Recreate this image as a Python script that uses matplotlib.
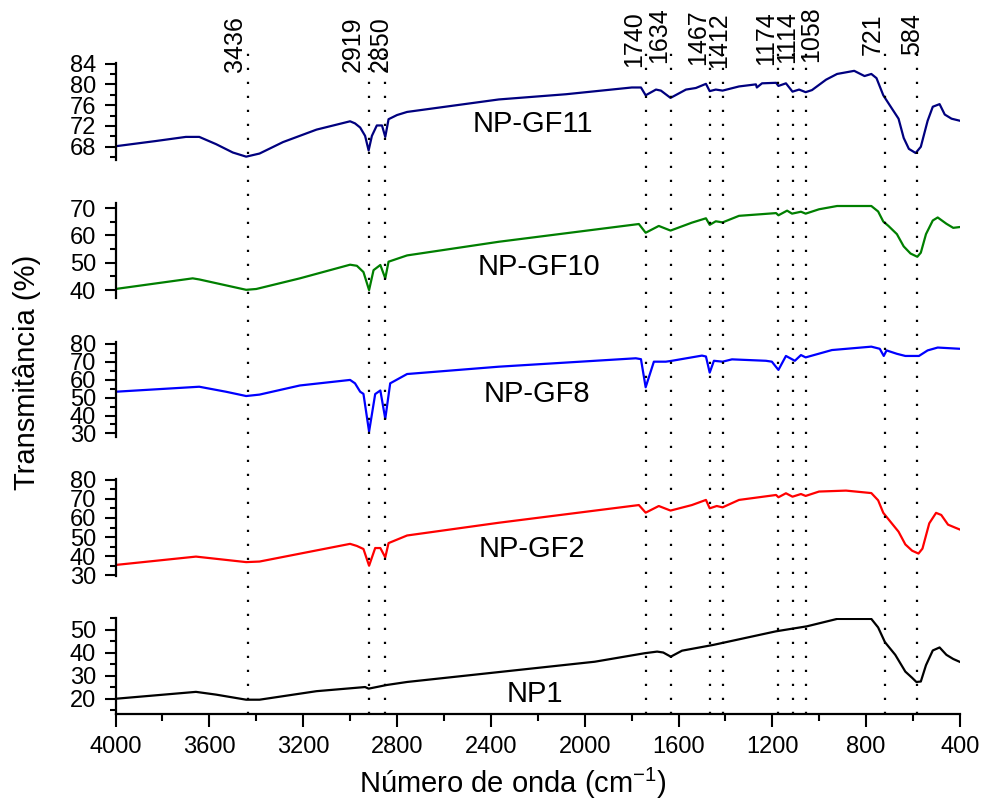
import matplotlib
matplotlib.use('Agg')
import matplotlib.pyplot as plt
from matplotlib.ticker import MultipleLocator

plt.rcParams['font.family'] = ['Liberation Sans', 'DejaVu Sans']
plt.rcParams['mathtext.fontset'] = 'custom'
plt.rcParams['mathtext.rm'] = 'Liberation Sans'
plt.rcParams['mathtext.default'] = 'regular'

# ---------------- data ----------------
peaks = [3436, 2919, 2850, 1740, 1634, 1467, 1412, 1174, 1114, 1058, 721, 584]

wn_gf11 = [4000, 3829, 3700, 3643, 3571, 3500, 3443, 3386, 3286, 3143,
           3000, 2979, 2957, 2936, 2921, 2907, 2886, 2864, 2850, 2836,
           2800, 2757, 2366, 2080, 1799, 1760, 1740, 1696, 1675, 1634,
           1568, 1526, 1483, 1467, 1441, 1412, 1342, 1270, 1266, 1244,
           1184, 1174, 1142, 1114, 1086, 1058, 1031, 971, 924, 851,
           807, 778, 756, 727, 691, 662, 640, 618, 589, 567,
           538, 516, 487, 465, 436, 400]
t_gf11 = [68.1, 69.1, 69.9, 69.9, 68.5, 66.9, 66.1, 66.7, 68.9, 71.3,
          72.9, 72.5, 71.7, 70.1, 67.3, 70.1, 72.1, 72.1, 69.9, 73.3,
          74.1, 74.7, 77.1, 78.1, 79.4, 79.4, 77.9, 79.0, 78.8, 77.4,
          79.0, 79.3, 80.1, 78.7, 79.0, 78.8, 79.6, 80.0, 79.4, 80.2,
          80.3, 79.7, 80.2, 78.6, 79.0, 78.5, 78.9, 80.9, 82.0, 82.6,
          81.6, 82.0, 81.2, 77.9, 75.4, 73.4, 69.7, 67.6, 66.8, 68.0,
          73.0, 75.7, 76.2, 74.2, 73.4, 73.0]

wn_gf10 = [4000, 3671, 3643, 3443, 3400, 3214, 3000, 2971, 2943, 2919,
           2900, 2871, 2850, 2836, 2757, 2366, 1769, 1740, 1684, 1634,
           1543, 1483, 1467, 1441, 1412, 1342, 1184, 1174, 1137, 1116,
           1078, 1058, 1001, 924, 778, 749, 727, 705, 669, 640,
           611, 582, 567, 545, 516, 495, 458, 429, 400]
t_gf10 = [40.4, 44.3, 43.9, 40.1, 40.4, 44.3, 49.3, 48.9, 46.6, 40.0,
          47.3, 49.2, 44.3, 50.4, 52.7, 57.7, 64.2, 61.0, 63.5, 61.8,
          64.7, 66.3, 63.9, 65.2, 64.8, 67.2, 68.2, 67.4, 69.1, 68.0,
          68.7, 68.0, 69.6, 70.8, 70.8, 68.8, 65.1, 63.5, 60.5, 56.0,
          53.4, 52.2, 53.7, 60.5, 65.5, 66.6, 64.3, 62.8, 63.1]

wn_gf8 = [4000, 3643, 3529, 3443, 3386, 3214, 3000, 2979, 2957, 2943,
          2919, 2893, 2871, 2850, 2829, 2757, 2366, 1782, 1760, 1740,
          1705, 1654, 1628, 1500, 1483, 1467, 1449, 1412, 1372, 1227,
          1202, 1174, 1142, 1104, 1078, 1058, 946, 778, 742, 725,
          713, 669, 633, 575, 538, 495, 400]
t_gf8 = [53.3, 56.1, 53.3, 50.9, 51.7, 56.8, 59.9, 58.0, 53.3, 52.1,
         31.0, 52.0, 54.0, 38.2, 58.0, 63.2, 67.3, 72.0, 71.5, 55.8,
         70.1, 70.1, 70.6, 73.5, 73.0, 64.0, 70.6, 70.1, 71.4, 70.6,
         70.1, 65.5, 73.3, 70.6, 73.8, 72.5, 76.6, 78.5, 77.3, 73.3,
         76.4, 74.5, 73.3, 73.3, 76.4, 78.0, 77.3]

wn_gf2 = [4000, 3657, 3443, 3386, 3000, 2971, 2943, 2919, 2893, 2871,
          2850, 2836, 2757, 2366, 1769, 1740, 1684, 1634, 1543, 1483,
          1467, 1437, 1412, 1342, 1184, 1174, 1142, 1114, 1078, 1058,
          1001, 886, 778, 749, 727, 691, 662, 633, 604, 577,
          560, 531, 502, 480, 451, 422, 400]
t_gf2 = [35.3, 39.7, 36.8, 37.1, 46.4, 45.3, 43.7, 34.9, 44.2, 44.2,
         39.3, 46.8, 50.8, 57.5, 66.8, 62.8, 66.3, 63.9, 66.8, 69.5,
         65.1, 66.3, 65.6, 69.5, 72.1, 70.9, 73.0, 71.2, 72.6, 71.6,
         73.9, 74.4, 73.1, 69.3, 62.7, 57.2, 52.8, 46.1, 42.8, 41.3,
         43.9, 57.2, 62.7, 61.6, 56.5, 55.0, 53.9]

wn_np1 = [4000, 3657, 3571, 3443, 3386, 3143, 2936, 2921, 2843, 2757,
          2357, 1957, 1744, 1691, 1665, 1633, 1585, 1452, 1185, 1052,
          924, 778, 749, 720, 676, 633, 604, 586, 567, 545,
          516, 487, 458, 429, 400]
t_np1 = [20.0, 23.0, 21.8, 19.6, 19.6, 23.3, 25.1, 24.4, 26.0, 27.3,
         31.7, 36.1, 39.8, 40.5, 40.1, 38.3, 40.9, 43.4, 49.3, 51.5,
         54.7, 54.7, 51.0, 44.6, 39.1, 31.8, 29.1, 27.3, 27.5, 34.6,
         41.0, 42.3, 39.1, 37.3, 36.0]

names = ['NP-GF11', 'NP-GF10', 'NP-GF8', 'NP-GF2', 'NP1']
colors = ['#00007f', '#007f00', '#0000ff', '#ff0000', '#000000']

# ---------------- layout ----------------
W, H = 984, 801
x_left, x_right = 115.5, 960.0
panel_px = [(63.3, 160.3), (203, 298), (342, 437), (479, 576), (618, 713.5)]
ylims = [(65.4, 84.05), (37.1, 71.9), (28.0, 81.1), (29.5, 80.5), (13.6, 55.1)]
ymaj = [4, 10, 10, 10, 10]
ymin_ = [2, 5, 5, 5, 5]
label_wn = [2221, 2196, 2202, 2225, 2212]
label_base = [70.8, 45.5, 47.5, 39.5, 18.6]

fig = plt.figure(figsize=(W / 100, H / 100), dpi=100)
series = [(wn_gf11, t_gf11), (wn_gf10, t_gf10), (wn_gf8, t_gf8),
          (wn_gf2, t_gf2), (wn_np1, t_np1)]

for i, (wn, tv) in enumerate(series):
    top, bot = panel_px[i]
    ax = fig.add_axes([x_left / W, 1 - bot / H, (x_right - x_left) / W, (bot - top) / H])
    ax.patch.set_alpha(0)
    ax.plot(wn, tv, color=colors[i], lw=1.6, solid_joinstyle='round')
    ax.set_xlim(4000, 400)
    ax.set_ylim(*ylims[i])
    ax.yaxis.set_major_locator(MultipleLocator(ymaj[i]))
    ax.yaxis.set_minor_locator(MultipleLocator(ymin_[i]))
    for s in ['top', 'right']:
        ax.spines[s].set_visible(False)
    ax.spines['left'].set_linewidth(1.6)
    ax.tick_params(axis='y', which='major', direction='out', length=8, width=1.5,
                   labelsize=17, pad=6)
    ax.tick_params(axis='y', which='minor', direction='out', length=4, width=1.5)
    ax.text(label_wn[i], label_base[i], names[i], ha='center', va='baseline',
            fontsize=21)
    if i < len(series) - 1:
        ax.spines['bottom'].set_visible(False)
        ax.tick_params(axis='x', which='both', bottom=False, labelbottom=False)
    else:
        ax.spines['bottom'].set_linewidth(1.6)
        ax.xaxis.set_major_locator(MultipleLocator(400))
        ax.xaxis.set_minor_locator(MultipleLocator(200))
        ax.tick_params(axis='x', which='major', direction='out', length=9, width=1.5,
                       labelsize=17, pad=7)
        ax.tick_params(axis='x', which='minor', direction='out', length=5, width=1.5)

# overlay for dotted peak markers
ov_top, ov_bot = 45, 713.5
ov = fig.add_axes([x_left / W, 1 - ov_bot / H, (x_right - x_left) / W, (ov_bot - ov_top) / H])
ov.set_xlim(4000, 400)
ov.set_ylim(0, 1)
ov.axis('off')
ov.vlines(peaks, 0, 1, colors='black', linestyles=(0, (1, 5.3)), lw=1.6)

label_dx_px = [-6, -9, 2, -5, -4, -5, 4, -5, 2, 12, -5, 2]
label_bottom_px = [72, 72, 72, 67, 63, 65, 68, 65, 63, 62, 55, 55]
for p, dx, bpx in zip(peaks, label_dx_px, label_bottom_px):
    ov.annotate(str(p), xy=(p, 1 - bpx / H), xycoords=('data', 'figure fraction'),
                xytext=(dx * 0.72, 0), textcoords='offset points',
                rotation=90, rotation_mode='anchor', ha='left', va='baseline',
                fontsize=18, annotation_clip=False)

fig.text(27.5 / W, 1 - 372 / H, 'Transmitância (%)', rotation=90,
         ha='center', va='center', fontsize=21)
fig.text(513 / W, 1 - 783 / H, 'Número de onda (cm$^{-1}$)',
         ha='center', va='center', fontsize=21)

fig.savefig('out.png', dpi=100)
